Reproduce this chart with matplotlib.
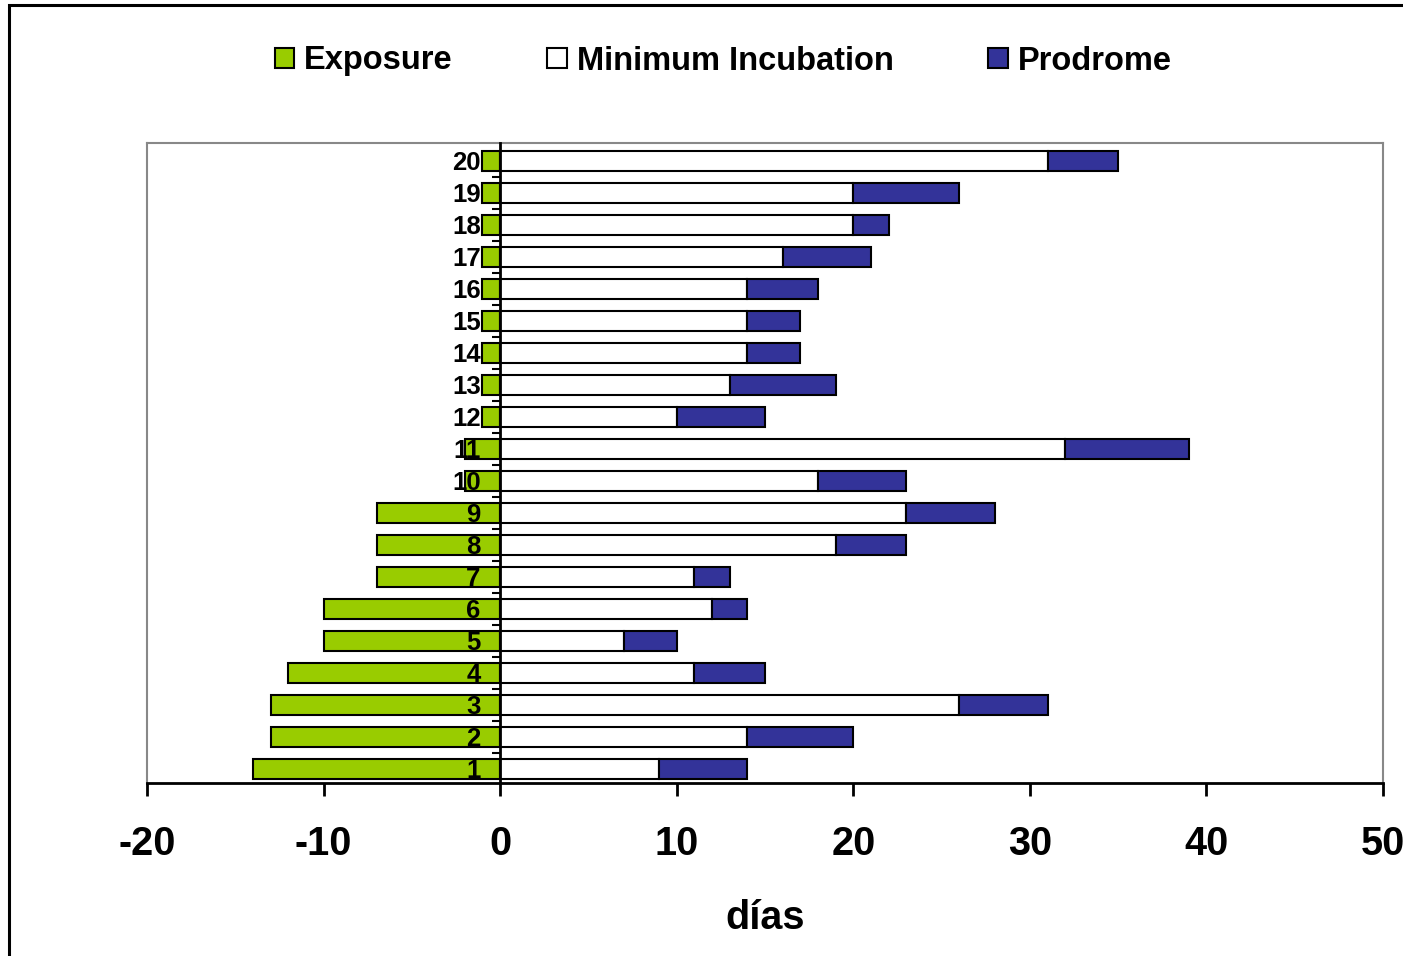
import numpy as np
import matplotlib.pyplot as plt
from matplotlib.patches import Rectangle
from matplotlib.ticker import FixedLocator

plt.rcParams['font.family'] = ['Liberation Sans', 'DejaVu Sans']
plt.rcParams['font.weight'] = 'bold'

# data (days)
cases = np.arange(1, 21)
exposure = [-14, -13, -13, -12, -10, -10, -7, -7, -7, -2,
            -2, -1, -1, -1, -1, -1, -1, -1, -1, -1]
min_incubation = [9, 14, 26, 11, 7, 12, 11, 19, 23, 18,
                  32, 10, 13, 14, 14, 14, 16, 20, 20, 31]
prodrome_end = [14, 20, 31, 15, 10, 14, 13, 23, 28, 23,
                39, 15, 19, 17, 17, 18, 21, 22, 26, 35]
prodrome = np.array(prodrome_end) - np.array(min_incubation)

green = '#99CC00'
blue = '#333399'

fig = plt.figure(figsize=(14.03, 9.56), dpi=100)
ax = fig.add_axes([147/1403, 1 - 783/956, (1383-147)/1403, (783-143)/956])

h = 0.63
ax.barh(cases, exposure, height=h, color=green, edgecolor='black', linewidth=1.5, label='Exposure')
ax.barh(cases, min_incubation, height=h, color='white', edgecolor='black', linewidth=1.5,
        label='Minimum Incubation')
ax.barh(cases, prodrome, left=min_incubation, height=h, color=blue, edgecolor='black',
        linewidth=1.5, label='Prodrome')

ax.set_xlim(-20, 50)
ax.set_ylim(0.55, 20.55)

# y axis sits at zero
ax.spines['left'].set_position(('data', 0))
ax.spines['left'].set_color('black')
ax.spines['left'].set_linewidth(2)
ax.spines['left'].set_zorder(5)
for s in ['top', 'right']:
    ax.spines[s].set_color('#888888')
    ax.spines[s].set_linewidth(1.5)
ax.spines['bottom'].set_color('black')
ax.spines['bottom'].set_linewidth(2)
ax.axvline(-20, color='#888888', linewidth=1.5, clip_on=False, zorder=0)

ax.set_yticks(cases)
ax.set_yticklabels([str(c) for c in cases], fontsize=18.5, fontweight='bold')
ax.yaxis.set_minor_locator(FixedLocator(np.arange(1.5, 20.5, 1.0)))
ax.tick_params(axis='y', which='major', length=0, pad=14)
ax.tick_params(axis='y', which='minor', length=6, width=1.5, direction='out')

ax.set_xticks(np.arange(-20, 51, 10))
ax.set_xticklabels([str(v) for v in range(-20, 51, 10)], fontsize=28.5, fontweight='bold')
ax.tick_params(axis='x', length=9.5, width=2, direction='out', pad=21)
ax.set_xlabel('días', fontsize=28.5, fontweight='bold', labelpad=26)

fig.legend(loc='center', bbox_to_anchor=(723/1403, 1 - 61/956), ncol=3, frameon=False,
           prop={'size': 23.5, 'weight': 'bold'}, handlelength=0.6, handleheight=0.6,
           handletextpad=0.3, columnspacing=2.9)

fig.patches.append(Rectangle((9/1403, -0.1), 1.2, 1.1 - 5/956, transform=fig.transFigure,
                             fill=False, edgecolor='black', linewidth=2.2))

fig.savefig('out.png', dpi=100)
